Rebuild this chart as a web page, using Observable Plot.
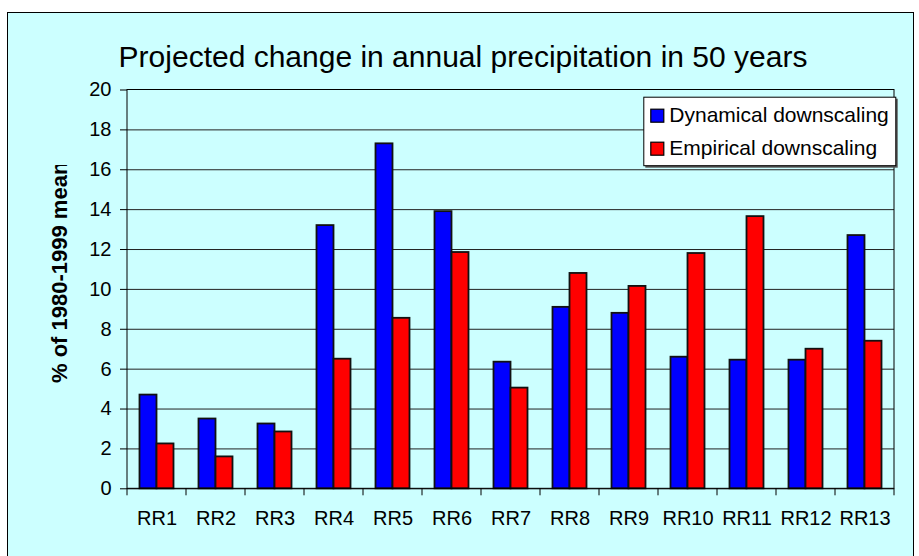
<!DOCTYPE html>
<html>
<head>
<meta charset="utf-8">
<script src="https://cdn.jsdelivr.net/npm/d3@7"></script>
<script src="https://cdn.jsdelivr.net/npm/@observablehq/plot@0.6"></script>
<style>
  html, body { margin: 0; padding: 0; background: #fff; }
  #wrap { position: relative; width: 919px; height: 556px; overflow: hidden; }
  #box { position: absolute; left: 7px; top: 12px; width: 905px; height: 560px; border: 1px solid #000; background: #CCFFFF; }
  #chart { position: absolute; left: 0; top: 0; }
  #chart svg { font-family: "Liberation Sans", Arial, sans-serif; }
</style>
</head>
<body>
<div id="wrap"><div id="box"></div><div id="chart"></div></div>
<script>
const title = "Projected change in annual precipitation in 50 years";
const yLabel = "% of 1980-1999 mean";
const regions = ["RR1","RR2","RR3","RR4","RR5","RR6","RR7","RR8","RR9","RR10","RR11","RR12","RR13"];
const seriesNames = ["Dynamical downscaling", "Empirical downscaling"];
const seriesColors = ["#0000FF", "#FF0000"];
const dynamical = [4.7, 3.5, 3.25, 13.2, 17.3, 13.9, 6.35, 9.1, 8.8, 6.6, 6.45, 6.45, 12.7];
const empirical = [2.25, 1.6, 2.85, 6.5, 8.55, 11.85, 5.05, 10.8, 10.15, 11.8, 13.65, 7.0, 7.4];
const yTicks = [0, 2, 4, 6, 8, 10, 12, 14, 16, 18, 20];

const data = regions.flatMap((r, i) => [
  {region: r, series: seriesNames[0], value: dynamical[i]},
  {region: r, series: seriesNames[1], value: empirical[i]}
]);

const W = 919, H = 556, mL = 124.5, mR = 21.7, mT = 89.5, mB = 67.7;

const plot = Plot.plot({
  width: W, height: H,
  marginLeft: mL, marginRight: mR, marginTop: mT, marginBottom: mB,
  style: {background: "transparent", fontFamily: "'Liberation Sans', Arial, sans-serif", fontSize: "20px", color: "#000", overflow: "visible"},
  fx: {domain: regions, padding: 0, label: null, tickSize: 0, tickPadding: 22, axis: "bottom"},
  x: {domain: seriesNames, paddingInner: 0, paddingOuter: 0.68, axis: null},
  y: {domain: [0, 20], ticks: yTicks, tickSize: 7, tickPadding: 9, label: null},
  color: {domain: seriesNames, range: seriesColors},
  marks: [
    Plot.ruleY(yTicks.filter(d => d > 0 && d < 20), {stroke: "#222", strokeWidth: 1, strokeOpacity: 1}),
    Plot.barY(data, {fx: "region", x: "series", y: "value", fill: "series", stroke: "#111", strokeWidth: 1.8}),
    Plot.ruleY([0], {stroke: "#000", strokeWidth: 1})
  ]
});
document.getElementById("chart").appendChild(plot);

const svg = d3.select(plot.tagName.toLowerCase() === "svg" ? plot : plot.querySelector("svg"));
const ys = plot.scale("y");
const fxs = plot.scale("fx");
const y0 = ys.apply(0), y20 = ys.apply(20);
let bounds;
try {
  bounds = regions.map(r => fxs.apply(r));
  bounds.push(fxs.apply(regions[regions.length - 1]) + fxs.bandwidth);
  if (bounds.some(v => !isFinite(v))) throw 0;
} catch (e) {
  const step = (W - mL - mR) / regions.length;
  bounds = d3.range(regions.length + 1).map(i => mL + i * step);
}
const xL = bounds[0], xR = bounds[bounds.length - 1];

// plot area frame
svg.append("rect").attr("x", xL).attr("y", y20).attr("width", xR - xL).attr("height", y0 - y20)
  .attr("fill", "none").attr("stroke", "#000").attr("stroke-width", 1);
// category boundary ticks
svg.append("g").selectAll("line").data(bounds).join("line")
  .attr("x1", d => d).attr("x2", d => d).attr("y1", y0).attr("y2", y0 + 7)
  .attr("stroke", "#000").attr("stroke-width", 1);

// title
svg.append("text").attr("x", 463).attr("y", 66.7).attr("text-anchor", "middle")
  .attr("font-size", 30).attr("fill", "#000").text(title);

// y label (clipped at top like the original)
const clipId = "ylabclip";
svg.append("clipPath").attr("id", clipId).append("rect")
  .attr("x", 20).attr("y", 165).attr("width", 80).attr("height", 300);
svg.append("g").attr("clip-path", `url(#${clipId})`).append("text")
  .attr("transform", "translate(67.3,383) rotate(-90)")
  .attr("text-anchor", "start").attr("font-size", 22).attr("font-weight", "bold")
  .attr("fill", "#000").text(yLabel);

// legend
const lg = svg.append("g").attr("transform", "translate(643.3,96.7)").attr("text-anchor", "start");
lg.append("rect").attr("x", 2).attr("y", 2).attr("width", 252.4).attr("height", 69).attr("fill", "#555");
lg.append("rect").attr("x", 0.5).attr("y", 0.5).attr("width", 252).attr("height", 68.5)
  .attr("fill", "#fff").attr("stroke", "#000").attr("stroke-width", 1);
seriesNames.forEach((name, i) => {
  const g = lg.append("g").attr("transform", `translate(0,${i * 33})`);
  g.append("rect").attr("x", 7.5).attr("y", 12.5).attr("width", 13).attr("height", 13)
    .attr("fill", seriesColors[i]).attr("stroke", "#000").attr("stroke-width", 1.2);
  g.append("text").attr("x", 26).attr("y", 25).attr("text-anchor", "start")
    .attr("font-size", 21).attr("fill", "#000").text(name);
});
</script>
</body>
</html>
